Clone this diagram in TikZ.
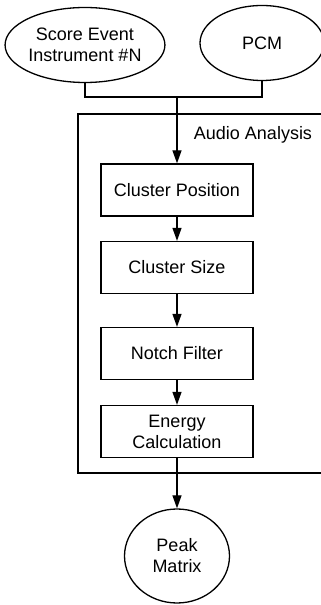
\documentclass[tikz,border=0pt]{standalone}
\usepackage{fontspec}
\setmainfont{Liberation Sans}
\usetikzlibrary{shapes.geometric,arrows.meta}
\begin{document}
\begin{tikzpicture}[x=1pt,y=1pt,line width=1.3pt,>={Triangle[length=13pt,width=9pt]}]
        % Styles
        \tikzstyle{every node}=[font=\fontsize{18}{21}\selectfont,align=center]
        \tikzstyle{source}=[draw,ellipse,inner sep=0pt]
        \tikzstyle{stage}=[draw,rectangle,minimum width=152pt,minimum height=52pt,inner sep=0pt]
        \useasboundingbox (0,0) rectangle (321,605);
        %inputs
        \node[source,minimum width=155pt,minimum height=75pt] (score) at (85,560) {Score Event\\Instrument \#N};
        \node[source,minimum width=124pt,minimum height=75pt] (pcm) at (262,562) {PCM};
        \coordinate (merge) at (177,508);
        %analysis block
        \draw (345,491) -- (78,491) -- (78,132) -- (345,132);
        \node (title) at (253,470) {Audio Analysis};
        \node[stage] (pos) at (177,415) {Cluster Position};
        \node[stage] (size) at (177,337.5) {Cluster Size};
        \node[stage] (notch) at (177,251.5) {Notch Filter};
        \node[stage] (energy) at (177,173.5) {Energy\\Calculation};
        %output
        \node[source,minimum width=105pt,minimum height=94pt] (peak) at (177,49) {Peak\\Matrix};
        %connectors
        \draw (score.south) |- (merge) -| (pcm.south);
        \draw[->] (merge) -- (pos);
        \draw[->] (pos) -- (size);
        \draw[->] (size) -- (notch);
        \draw[->] (notch) -- (energy);
        \draw[->] (energy) -- (peak);
\end{tikzpicture}
\end{document}
